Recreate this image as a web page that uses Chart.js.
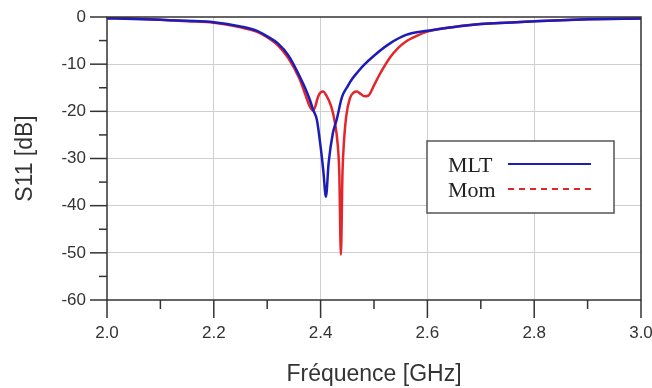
<!DOCTYPE html>
<html>
<head>
<meta charset="utf-8">
<script src="https://cdn.jsdelivr.net/npm/chart.js@4/dist/chart.umd.min.js"></script>
<style>
  html, body { margin: 0; padding: 0; background: #fff; }
  .chart-container { width: 652px; height: 388px; }
</style>
</head>
<body>
<div class="chart-container"><canvas id="s11Chart" width="652" height="388"></canvas></div>
<script>
// MLT curve (blue)
const mltFreq = [2.00, 2.05, 2.10, 2.15, 2.20, 2.25, 2.28, 2.30, 2.32, 2.34, 2.36, 2.37, 2.38, 2.386, 2.393, 2.40, 2.405, 2.410, 2.415, 2.423, 2.430, 2.44, 2.45, 2.46, 2.47, 2.48, 2.50, 2.53, 2.56, 2.60, 2.65, 2.70, 2.80, 2.90, 3.00]
const mltS11 = [-0.3, -0.4, -0.6, -0.8, -1.1, -2.0, -2.9, -4.1, -5.6, -8.2, -12.4, -14.8, -17.6, -19.7, -21.8, -27.5, -32.5, -38.1, -31.0, -24.6, -21.8, -17.0, -14.8, -13.0, -11.6, -10.3, -8.2, -5.6, -3.8, -2.9, -2.1, -1.5, -0.9, -0.5, -0.3]

// Mom curve (red)
const momFreq = [2.00, 2.05, 2.10, 2.15, 2.20, 2.25, 2.28, 2.30, 2.32, 2.34, 2.36, 2.37, 2.38, 2.386, 2.39, 2.395, 2.40, 2.405, 2.41, 2.42, 2.427, 2.432, 2.435, 2.438, 2.441, 2.444, 2.448, 2.455, 2.462, 2.468, 2.475, 2.482, 2.489, 2.50, 2.51, 2.53, 2.545, 2.56, 2.58, 2.60, 2.65, 2.70, 2.80, 2.90, 3.00]
const momS11 = [-0.2, -0.3, -0.6, -0.9, -1.2, -2.2, -3.1, -4.3, -6.0, -8.8, -13.0, -16.0, -19.0, -19.8, -19.0, -17.0, -16.0, -15.8, -16.5, -19.0, -22.5, -27.0, -33.0, -50.4, -33.0, -26.0, -21.0, -17.2, -16.0, -15.8, -16.3, -16.8, -16.7, -14.5, -12.3, -8.6, -6.6, -5.2, -4.0, -3.1, -2.1, -1.5, -0.9, -0.5, -0.3]

const seriesNames = ['MLT', 'Mom']
const xTicks = [2.0, 2.2, 2.4, 2.6, 2.8, 3.0]
const yTicks = [0, -10, -20, -30, -40, -50, -60]

const blue = '#1c1cb8'
const red = '#e3262b'
const axisColor = '#333'
const gridColor = '#cfcfcf'

const toPoints = (xs, ys) => xs.map((x, i) => ({ x: x, y: ys[i] }))

// frame, tick marks and the boxed legend
const framePlugin = {
  id: 'frame',
  afterDraw(chart) {
    const ctx = chart.ctx
    const a = chart.chartArea
    const xs = chart.scales.x, ys = chart.scales.y
    ctx.save()
    ctx.strokeStyle = axisColor
    ctx.lineWidth = 1.5
    ctx.strokeRect(a.left, a.top, a.right - a.left, a.bottom - a.top)
    // x ticks
    xs.ticks.forEach(t => {
      const px = xs.getPixelForValue(t.value)
      const major = Math.round(t.value * 10) % 2 === 0
      ctx.beginPath()
      ctx.moveTo(px, a.bottom)
      ctx.lineTo(px, a.bottom + (major ? 18 : 9))
      ctx.stroke()
    })
    // y ticks
    ys.ticks.forEach(t => {
      const py = ys.getPixelForValue(t.value)
      const major = Math.round(t.value) % 10 === 0
      ctx.beginPath()
      ctx.moveTo(a.left, py)
      ctx.lineTo(a.left - (major ? 17 : 8), py)
      ctx.stroke()
    })

    // legend
    const bx = a.left + 320, by = a.top + 124, bw = 187, bh = 72
    ctx.fillStyle = '#fff'
    ctx.fillRect(bx, by, bw, bh)
    ctx.strokeStyle = '#555'
    ctx.lineWidth = 1.5
    ctx.strokeRect(bx, by, bw, bh)
    ctx.font = '22px "Liberation Serif", serif'
    ctx.fillStyle = '#222'
    ctx.textBaseline = 'alphabetic'
    const colors = [blue, red]
    seriesNames.forEach((name, i) => {
      const base = by + 31 + i * 25
      ctx.fillText(name, bx + 21, base)
      ctx.beginPath()
      ctx.strokeStyle = colors[i]
      ctx.lineWidth = 2
      ctx.setLineDash(i === 1 ? [6, 5] : [])
      ctx.moveTo(bx + 81, base - 8)
      ctx.lineTo(bx + 164, base - 8)
      ctx.stroke()
    })
    ctx.restore()
  }
}

const data = {
  datasets: [{
    label: seriesNames[0],
    data: toPoints(mltFreq, mltS11),
    borderColor: blue,
    borderWidth: 2.5,
    pointRadius: 0,
    cubicInterpolationMode: 'monotone'
  }, {
    label: seriesNames[1],
    data: toPoints(momFreq, momS11),
    borderColor: red,
    borderWidth: 2.5,
    pointRadius: 0,
    cubicInterpolationMode: 'monotone'
  }]
}

const tickFont = { family: '"Liberation Sans", Arial, sans-serif', size: 17 }
const titleFont = { family: '"Liberation Sans", Arial, sans-serif', size: 23 }

const config = {
  type: 'line',
  data: data,
  options: {
    responsive: false,
    animation: false,
    layout: { padding: { top: 17, right: 11, left: 0, bottom: 0 } },
    plugins: { legend: { display: false }, tooltip: { enabled: false } },
    scales: {
      x: {
        type: 'linear',
        min: 2, max: 3,
        afterFit: s => {
          s.height = 88
          s.paddingLeft = 0
          s.paddingRight = 0
        },
        afterBuildTicks: s => {
          s.ticks = []
          for (let i = 0; i <= 10; i++) s.ticks.push({ value: 2 + i / 10 })
        },
        ticks: {
          autoSkip: false,
          maxRotation: 0,
          padding: 23,
          color: axisColor,
          font: tickFont,
          callback: v => {
            const r = Math.round(v * 10)
            return r % 2 === 0 ? xTicks.find(t => Math.round(t * 10) === r).toFixed(1) : ''
          }
        },
        grid: {
          drawTicks: false,
          color: c => {
            const r = Math.round(c.tick.value * 10)
            return (r % 2 === 0 && r > 20 && r < 30) ? gridColor : 'transparent'
          }
        },
        border: { display: false },
        title: { display: true, text: 'Fréquence [GHz]', color: axisColor, font: titleFont, padding: { top: 0, bottom: 0 } }
      },
      y: {
        min: -60, max: 0,
        afterFit: s => {
          s.width = 107
          s.paddingTop = 0
          s.paddingBottom = 0
        },
        afterBuildTicks: s => {
          s.ticks = []
          for (let v = 0; v >= -60; v -= 5) s.ticks.push({ value: v })
        },
        ticks: {
          padding: 21,
          color: axisColor,
          font: tickFont,
          callback: v => yTicks.includes(v) ? String(v) : ''
        },
        grid: {
          drawTicks: false,
          color: c => {
            const v = c.tick.value
            return (v % 10 === 0 && v < 0 && v > -60) ? gridColor : 'transparent'
          }
        },
        border: { display: false },
        title: { display: true, text: 'S11 [dB]', color: axisColor, font: titleFont, padding: { top: 12, bottom: 0 } }
      }
    }
  },
  plugins: [framePlugin]
}

const chart = new Chart(document.getElementById('s11Chart'), config)
</script>
</body>
</html>
